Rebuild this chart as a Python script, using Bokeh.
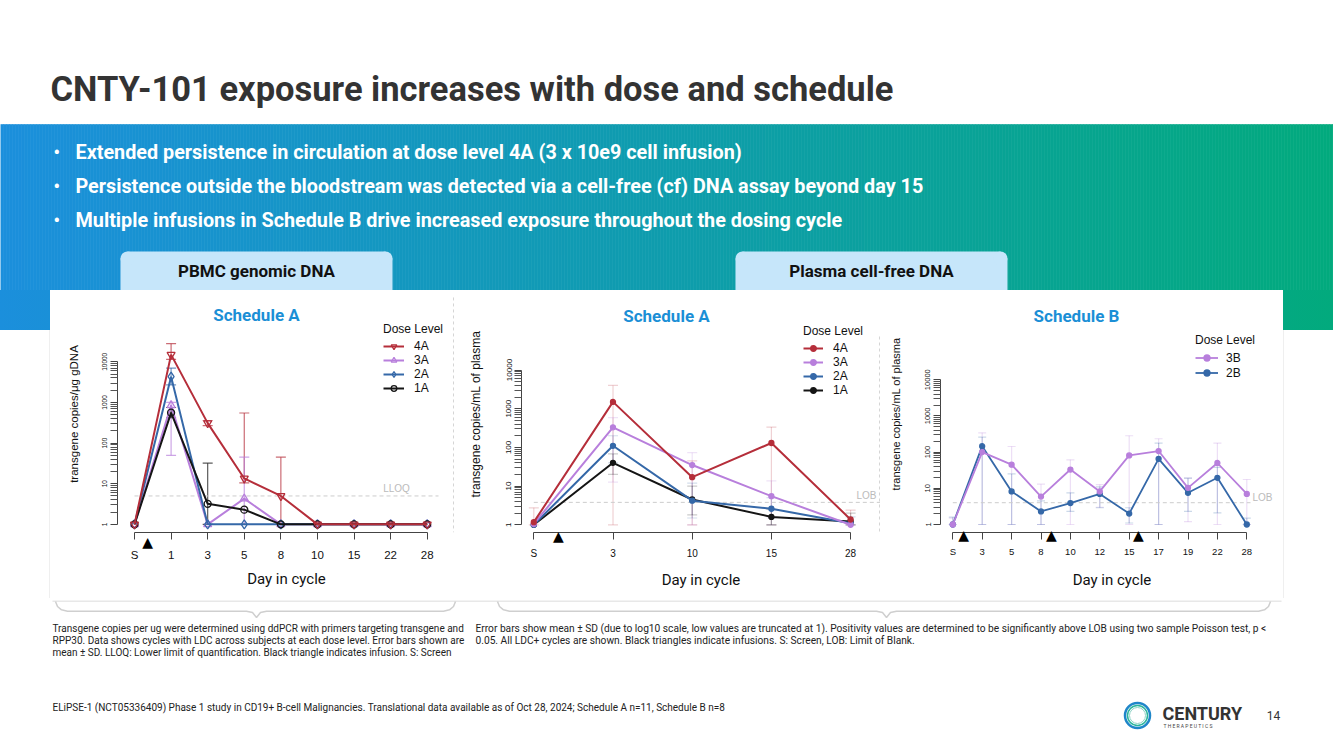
import math
from bokeh.plotting import figure
from bokeh.layouts import column, row
from bokeh.models import (Range1d, FixedTicker, PrintfTickFormatter, Whisker, TeeHead,
                          ColumnDataSource, Legend, LegendItem, LinearAxis, Div)
from bokeh.core.properties import value
from bokeh.embed import file_html
from bokeh.resources import INLINE

# ---------------- text content ----------------
TITLE = "CNTY-101 exposure increases with dose and schedule"
BULLETS = [
    "Extended persistence in circulation at dose level 4A (3 x 10e9 cell infusion)",
    "Persistence outside the bloodstream was detected via a cell-free (cf) DNA assay beyond day 15",
    "Multiple infusions in Schedule B drive increased exposure throughout the dosing cycle",
]
TAB_LEFT = "PBMC genomic DNA"
TAB_RIGHT = "Plasma cell-free DNA"
NOTE_LEFT = [
    "Transgene copies per ug were determined using ddPCR with primers targeting transgene and",
    "RPP30. Data shows cycles with LDC across subjects at each dose level. Error bars shown are",
    "mean \u00b1 SD. LLOQ: Lower limit of quantification. Black triangle indicates infusion. S: Screen",
]
NOTE_RIGHT = [
    "Error bars show mean \u00b1 SD (due to log10 scale, low values are truncated at 1). Positivity values are determined to be significantly above LOB  using two sample Poisson test, p <",
    "0.05. All LDC+ cycles are shown. Black triangles indicate infusions. S: Screen, LOB: Limit of Blank.",
]
CITATION = ("ELiPSE-1 (NCT05336409) Phase 1 study in CD19+ B-cell Malignancies. Translational data "
            "available as of Oct 28, 2024; Schedule A n=11, Schedule B n=8")
PAGE = "14"

# ---------------- data: PBMC genomic DNA, Schedule A ----------------
pbmc_days = ["S", "1", "3", "5", "8", "10", "15", "22", "28"]
pbmc_infusions = [0.36]
pbmc_4A = [1, 15000, 310, 13.5, 5.0, 1, 1, 1, 1]
pbmc_4A_hi = [None, 28000, 360, 550, 45, None, None, None, None]
pbmc_4A_lo = [None, 11500, 270, 10.5, 1, None, None, None, None]
pbmc_3A = [1, 850, 1, 4.3, 1, 1, 1, 1, 1]
pbmc_3A_hi = [None, 1000, None, 45, None, None, None, None, None]
pbmc_3A_lo = [None, 50, None, 1, None, None, None, None, None]
pbmc_2A = [1, 4300, 1, 1, 1, 1, 1, 1, 1]
pbmc_2A_hi = [None, 7000, None, None, None, None, None, None, None]
pbmc_2A_lo = [None, 2700, None, None, None, None, None, None, None]
pbmc_1A = [1, 560, 3.2, 2.3, 1, 1, 1, 1, 1]
pbmc_1A_hi = [None, 750, 32, None, None, None, None, None, None]
pbmc_1A_lo = [None, 420, 1, None, None, None, None, None, None]
LLOQ = 5.0

# ---------------- data: plasma cfDNA, Schedule A ----------------
cfA_days = ["S", "3", "10", "15", "28"]
cfA_infusions = [0.31]
cfA_4A = [1.17, 1500, 17, 130, 1.37]
cfA_4A_hi = [2.75, 4000, 45, 335, 2.4]
cfA_4A_lo = [1, 1, 1, 1, 1]
cfA_3A = [1.05, 330, 35, 5.5, 1.0]
cfA_3A_hi = [None, 585, 73, 13.7, None]
cfA_3A_lo = [None, 12.7, 1, 1.5, None]
cfA_2A = [1, 110, 4.2, 2.6, 1.1]
cfA_2A_hi = [None, 200, 12, 5, 1.6]
cfA_2A_lo = [None, 40, 1.5, 1, 1]
cfA_1A = [1, 40, 4.5, 1.6, 1.22]
cfA_1A_hi = [None, 68, 10, 2.5, 2.0]
cfA_1A_lo = [None, 20, 1.8, 1, 1]
LOB_A = 3.8

# ---------------- data: plasma cfDNA, Schedule B ----------------
cfB_days = ["S", "3", "5", "8", "10", "12", "15", "17", "19", "22", "28"]
cfB_infusions = [0.37, 3.35, 6.31]
cfB_3B = [1, 100, 45, 5.9, 33, 8.2, 81, 107, 10.3, 50, 7.0]
cfB_3B_hi = [1.5, 340, 143, 13, 61, 12.7, 283, 234, 19, 177, 17.5]
cfB_3B_lo = [1, 1, 1, 1, 1, 3.0, 1, 1, 1.2, 1, 1]
cfB_2B = [1, 146, 8.2, 2.3, 3.9, 7.0, 2.0, 65, 7.5, 19.5, 1]
cfB_2B_hi = [1.6, 260, 25, 4.5, 7.5, 11, 2.9, 177, 19, 38, 1.5]
cfB_2B_lo = [1, 1, 1, 1, 2.3, 2.9, 1.1, 1, 2.3, 2.1, 1]
LOB_B = 4.0

# ---------------- styles ----------------
RED = "#b52e3a"
PURPLE = "#b87fdc"
BLUE = "#3568a8"
BLACK = "#151515"
HEAD_BLUE = "#1b8fd6"
TAB_FILL = "#c6e6fa"
RFONT = "Liberation Sans"
G0 = (27, 143, 220)
G1 = (2, 170, 125)


def grad(xabs):
    t = max(0.0, min(1.0, xabs / 1333.0))
    c = [int(round(G0[i] + (G1[i] - G0[i]) * t)) for i in range(3)]
    return "#%02x%02x%02x" % tuple(c)


def deco_fig(w, h):
    p = figure(width=w, height=h, x_range=Range1d(0, w), y_range=Range1d(h, 0),
               x_axis_type=None, y_axis_type=None, output_backend="svg",
               toolbar_location=None, min_border=0, outline_line_color=None,
               background_fill_color="white", border_fill_color="white")
    p.grid.visible = False
    return p


def gradient(p, x_from, x_to, offset, y0, y1, stepw=3):
    lefts = list(range(x_from, x_to, stepw))
    rights = [min(l + stepw, x_to) for l in lefts]
    cols = [grad(offset + l + stepw / 2) for l in lefts]
    n = len(lefts)
    p.quad(left=lefts, right=rights, top=[y0] * n, bottom=[y1] * n,
           fill_color=cols, line_color=cols, line_width=0.6)


# ---------------- top band ----------------
top = deco_fig(1333, 290)
gradient(top, 0, 1333, 0, 124, 295)
top.text(x=[50], y=[88], text=[TITLE], text_font=value("Roboto"), text_font_style="bold",
         text_font_size="34.5px", text_color="#333333", text_baseline="alphabetic")
by = [152, 186, 220]
top.text(x=[53] * 3, y=by, text=["\u2022"] * 3, text_font=value("Roboto"),
         text_font_style="bold", text_font_size="18px", text_color="white", text_baseline="middle")
top.text(x=[75] * 3, y=by, text=BULLETS, text_font=value("Roboto"), text_font_style="bold",
         text_font_size="19.8px", text_color="white", text_baseline="middle")
# tabs with rounded upper corners
R = 7
tl, tr = [120, 735], [392, 1007]
top.quad(left=tl, right=tr, top=[251 + R] * 2, bottom=[295] * 2,
         fill_color=TAB_FILL, line_color=None)
top.quad(left=[l + R for l in tl], right=[r - R for r in tr], top=[251] * 2,
         bottom=[251 + R + 1] * 2, fill_color=TAB_FILL, line_color=None)
top.circle(x=[l + R for l in tl] + [r - R for r in tr], y=[251 + R] * 4, radius=R,
           fill_color=TAB_FILL, line_color=None)
top.text(x=[256, 871], y=[270, 270], text=[TAB_LEFT, TAB_RIGHT], text_font=value("Roboto"),
         text_font_style="bold", text_font_size="17px", text_color="#111111",
         text_align="center", text_baseline="middle")


# ---------------- side strips (plain html blocks carrying the band's gradient) ----------------
def strip(x0, x1, shadow_left):
    sh = ("margin-left:49px;" if shadow_left else "margin-left:0px;")
    html = ("<div style='width:50px;height:40px;background:linear-gradient(to right,%s,%s);'></div>"
            "<div style='width:1px;height:268px;%sbackground:#efefef;'></div>"
            % (grad(x0), grad(x1), sh))
    return Div(text=html, width=50, height=310, margin=0,
               styles={"padding": "0", "margin": "0", "overflow": "hidden"})


lstrip = strip(0, 50, True)
rstrip = strip(1283, 1333, False)


# ---------------- charts ----------------
def chart(fig_x0, W, frame_left, frame_bottom, x0, step, y1, decade, days,
          tick_fs, tick_standoff, ytick_fs, ylab, ylab_fs, ylab_standoff):
    frame_top = 295
    fw = fig_x0 + W - frame_left
    xs = -(x0 - frame_left) / step
    xe = xs + fw / step
    ys = -(frame_bottom - y1) / decade
    ye = (y1 - frame_top) / decade
    p = figure(width=W, height=310, x_range=Range1d(xs, xe),
               y_range=Range1d(10 ** ys, 10 ** ye), y_axis_type="log",
               output_backend="svg", toolbar_location=None,
               min_border_left=frame_left - fig_x0, min_border_right=0,
               min_border_top=frame_top - 290, min_border_bottom=600 - frame_bottom,
               outline_line_color=None, background_fill_color="white",
               border_fill_color="white")
    p.grid.visible = False
    n = len(days)
    xa = p.xaxis[0]
    xa.ticker = FixedTicker(ticks=list(range(n)))
    xa.major_label_overrides = {i: d for i, d in enumerate(days)}
    xa.bounds = (0, n - 1)
    xa.minor_tick_line_color = None
    xa.major_tick_in = 0
    xa.major_tick_out = 7
    xa.minor_tick_out = 0
    xa.axis_line_color = "#444444"
    xa.major_tick_line_color = "#444444"
    xa.major_label_standoff = tick_standoff
    xa.major_label_text_font = RFONT
    xa.major_label_text_font_size = tick_fs
    xa.major_label_text_color = "#111111"
    ya = p.yaxis[0]
    minors = [k * 10 ** d for d in range(4) for k in range(2, 10)]
    ya.ticker = FixedTicker(ticks=[1, 10, 100, 1000, 10000], minor_ticks=minors)
    ya.formatter = PrintfTickFormatter(format="%d")
    ya.bounds = (1, 10000)
    ya.major_tick_in = 0
    ya.major_tick_out = 7
    ya.minor_tick_in = 0
    ya.minor_tick_out = 7
    ya.axis_line_color = "#444444"
    ya.major_tick_line_color = "#444444"
    ya.minor_tick_line_color = "#555555"
    ya.major_label_orientation = "vertical"
    ya.major_label_standoff = 3
    ya.major_label_text_font = RFONT
    ya.major_label_text_font_size = ytick_fs
    ya.major_label_text_color = "#111111"
    ya.axis_label = ylab
    ya.axis_label_text_font = RFONT
    ya.axis_label_text_font_style = "normal"
    ya.axis_label_text_font_size = ylab_fs
    ya.axis_label_text_color = "#111111"
    ya.axis_label_standoff = ylab_standoff
    fx = lambda px: xs + (px - frame_left) / step
    fy = lambda py: 10 ** ((y1 - py) / decade)
    return p, fx, fy


def series(p, ys, color, marker, size, fill, lw):
    src = ColumnDataSource(dict(x=list(range(len(ys))), y=ys))
    l = p.line("x", "y", source=src, line_color=color, line_width=lw)
    s = p.scatter("x", "y", source=src, marker=marker, size=size, line_color=color,
                  fill_color=fill, line_width=1.3)
    return [l, s]


def errbars(p, hi, lo, color, alpha, head):
    idx = [i for i in range(len(hi)) if hi[i] is not None]
    src = ColumnDataSource(dict(x=idx, hi=[hi[i] for i in idx], lo=[lo[i] for i in idx]))
    w = Whisker(source=src, base="x", upper="hi", lower="lo", line_color=color,
                line_alpha=alpha, line_width=1.2, level="underlay",
                upper_head=TeeHead(size=head, line_color=color, line_alpha=alpha, line_width=1.2),
                lower_head=TeeHead(size=head, line_color=color, line_alpha=alpha, line_width=1.2))
    p.add_layout(w)


def legend(p, items, vx, vy, item_h, glyph_w, standoff):
    lg = Legend(items=[LegendItem(label=k, renderers=r) for k, r in items],
                location=(vx, vy), title="Dose Level", title_text_font=RFONT,
                title_text_font_size="12px", title_text_font_style="normal",
                title_text_color="#111111", title_standoff=3,
                label_text_font=RFONT, label_text_font_size="12px",
                label_text_color="#111111", glyph_width=glyph_w, glyph_height=item_h,
                label_height=item_h, spacing=0, padding=0, margin=0,
                label_standoff=standoff, border_line_color=None,
                background_fill_alpha=0)
    p.add_layout(lg)


def decorate(p, fx, fy, title, title_cx, infusions, tri_standoff, lab_standoff):
    p.text(x=[fx(title_cx)], y=[fy(315)], text=[title], text_font=value("Roboto"),
           text_font_style="bold", text_font_size="17px", text_color=HEAD_BLUE,
           text_align="center", text_baseline="middle")
    # second axis below: infusion triangles pulled up under the main axis line, and
    # the "Day in cycle" caption centred on the panel
    c = fx(title_cx)
    half = c - 0.3
    ax2 = LinearAxis(ticker=FixedTicker(ticks=infusions),
                     formatter=PrintfTickFormatter(format="\u25b2"),
                     bounds=(c - half, c + half),
                     axis_line_color=None, major_tick_line_color=None,
                     minor_tick_line_color=None, major_tick_out=0, major_tick_in=0,
                     minor_tick_out=0, minor_tick_in=0,
                     major_label_text_font="DejaVu Sans", major_label_text_font_size="14px",
                     major_label_text_color="black", major_label_standoff=tri_standoff,
                     axis_label="Day in cycle", axis_label_text_font="Roboto",
                     axis_label_text_font_style="normal", axis_label_text_font_size="15px",
                     axis_label_text_color="#111111", axis_label_standoff=lab_standoff)
    p.add_layout(ax2, "below")


# chart 1: PBMC
p1, fx1, fy1 = chart(50, 405, 117, 537, 134, 36.59, 528.7, 41.5, pbmc_days,
                     "11.5px", 9, "6.5px", "transgene copies/\u03bcg gDNA", "11.5px", 20)
p1.line(x=[0, fx1(438)], y=[LLOQ, LLOQ], line_color="#cccccc", line_dash="4 3", line_width=1)
p1.text(x=[fx1(396)], y=[fy1(492)], text=["LLOQ"], text_font=value(RFONT),
        text_font_size="10px", text_color="#bbbbbb", text_align="center", text_baseline="middle")
p1.line(x=[fx1(453), fx1(453)], y=[fy1(297), fy1(537)], line_color="#d5d5d5",
        line_dash="3 3", line_width=1)
errbars(p1, pbmc_4A_hi, pbmc_4A_lo, RED, 0.7, 10)
errbars(p1, pbmc_3A_hi, pbmc_3A_lo, PURPLE, 0.7, 10)
errbars(p1, pbmc_2A_hi, pbmc_2A_lo, BLUE, 0.7, 10)
errbars(p1, pbmc_1A_hi, pbmc_1A_lo, BLACK, 0.7, 10)
r3 = series(p1, pbmc_3A, PURPLE, "triangle", 8, None, 2)
r2 = series(p1, pbmc_2A, BLUE, "diamond", 9, None, 2)
r1 = series(p1, pbmc_1A, BLACK, "circle", 7, None, 2)
r4 = series(p1, pbmc_4A, RED, "inverted_triangle", 8, None, 2)
legend(p1, [("4A", r4), ("3A", r3), ("2A", r2), ("1A", r1)], 266, 137, 14, 21, 10)
decorate(p1, fx1, fy1, "Schedule A", 256, pbmc_infusions, -30, 17)

# chart 2: plasma Schedule A
p2, fx2, fy2 = chart(455, 425, 521, 532, 533.3, 79.2, 524.3, 38.7, cfA_days,
                     "10px", 8, "8px", "transgene copies/mL of plasma", "12px", 21)
p2.line(x=[0, fx2(880)], y=[LOB_A, LOB_A], line_color="#cccccc", line_dash="4 3", line_width=1)
p2.text(x=[fx2(866)], y=[fy2(495)], text=["LOB"], text_font=value(RFONT),
        text_font_size="10px", text_color="#bbbbbb", text_align="center", text_baseline="middle")
p2.line(x=[fx2(879), fx2(879)], y=[fy2(336), fy2(532)], line_color="#d5d5d5",
        line_dash="3 3", line_width=1)
errbars(p2, cfA_4A_hi, cfA_4A_lo, RED, 0.22, 10)
errbars(p2, cfA_3A_hi, cfA_3A_lo, PURPLE, 0.22, 10)
errbars(p2, cfA_2A_hi, cfA_2A_lo, BLUE, 0.22, 10)
errbars(p2, cfA_1A_hi, cfA_1A_lo, BLACK, 0.22, 10)
q1 = series(p2, cfA_1A, BLACK, "circle", 5, BLACK, 2)
q2 = series(p2, cfA_2A, BLUE, "circle", 5, BLUE, 2)
q3 = series(p2, cfA_3A, PURPLE, "circle", 5, PURPLE, 2)
q4 = series(p2, cfA_4A, RED, "circle", 5, RED, 2)
legend(p2, [("4A", q4), ("3A", q3), ("2A", q2), ("1A", q1)], 282, 135, 14, 20, 10)
decorate(p2, fx2, fy2, "Schedule A", 666, cfA_infusions, -34, 24)

# chart 3: plasma Schedule B
p3, fx3, fy3 = chart(880, 403, 940, 532, 952.3, 29.4, 524, 36.2, cfB_days,
                     "9.5px", 6, "7.5px", "transgene copies/mL of plasma", "11px", 21)
p3.line(x=[0, fx3(1250)], y=[LOB_B, LOB_B], line_color="#cccccc", line_dash="4 3", line_width=1)
p3.text(x=[fx3(1262)], y=[fy3(497)], text=["LOB"], text_font=value(RFONT),
        text_font_size="10px", text_color="#bbbbbb", text_align="center", text_baseline="middle")
errbars(p3, cfB_3B_hi, cfB_3B_lo, PURPLE, 0.25, 8)
errbars(p3, cfB_2B_hi, cfB_2B_lo, BLUE, 0.25, 8)
t2 = series(p3, cfB_2B, BLUE, "circle", 5, BLUE, 1.8)
t3 = series(p3, cfB_3B, PURPLE, "circle", 5, PURPLE, 1.8)
legend(p3, [("3B", t3), ("2B", t2)], 255, 152, 15, 23, 8)
decorate(p3, fx3, fy3, "Schedule B", 1076, cfB_infusions, -33, 25)

# ---------------- bottom band ----------------
bot = deco_fig(1333, 149)
bot.line(x=[52, 1281], y=[0.5, 0.5], line_color="#e8e8e8", line_width=2)


def brace(x0, x1, mid):
    xs = [x0, x0 + 2, x0 + 6, x0 + 12, mid - 10, mid - 4, mid, mid + 4, mid + 10,
          x1 - 12, x1 - 6, x1 - 2, x1]
    ys = [1, 6, 9.3, 10.7, 10.7, 12, 17, 12, 10.7, 10.7, 9.3, 6, 1]
    bot.line(x=xs, y=ys, line_color="#cfcfcf", line_width=1.5)


brace(55, 455, 256)
brace(497, 1270, 886)
bot.text(x=[52] * 3, y=[28.3, 40, 51.7], text=NOTE_LEFT, text_font=value("Roboto"),
         text_font_size="10px", text_color="#222222", text_baseline="middle")
bot.text(x=[475] * 2, y=[28.3, 40], text=NOTE_RIGHT, text_font=value("Roboto"),
         text_font_size="10.2px", text_color="#222222", text_baseline="middle")
bot.text(x=[52], y=[107], text=[CITATION], text_font=value("Roboto"),
         text_font_size="10px", text_color="#222222", text_baseline="middle")
# logo
bot.circle(x=[1137], y=[115], radius=12.5, fill_color=None, line_color="#1f86c9", line_width=2.5)
bot.circle(x=[1137], y=[115], radius=10, fill_color=None, line_color="#2bb59b", line_width=1.5)
bot.circle(x=[1137], y=[115], radius=8, fill_color=None, line_color="#8fd3c6", line_width=1)
bot.text(x=[1162], y=[113], text=["CENTURY"], text_font=value("Roboto"), text_font_style="bold",
         text_font_size="18px", text_color="#333333", text_baseline="middle")
bot.text(x=[1163], y=[125], text=["T H E R A P E U T I C S"], text_font=value("Roboto"),
         text_font_size="5px", text_color="#444444", text_baseline="middle")
bot.text(x=[1273], y=[115], text=[PAGE], text_font=value("Roboto"),
         text_font_size="12px", text_color="#333333", text_align="center", text_baseline="middle")

layout = column(top, row(lstrip, p1, p2, p3, rstrip, spacing=0), bot, spacing=0)
open("out.html", "w").write(file_html(layout, INLINE))
